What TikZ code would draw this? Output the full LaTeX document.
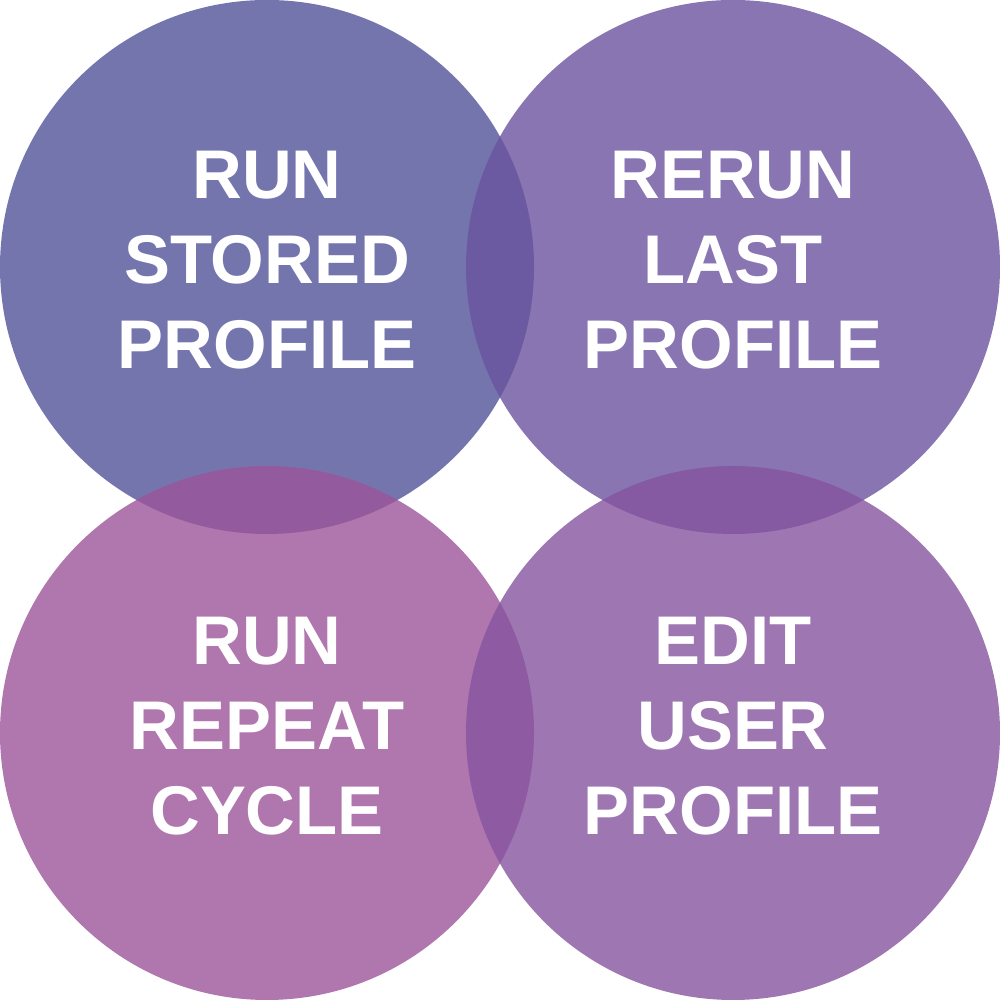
\documentclass[tikz,border=0pt]{standalone}
\usepackage{fontspec}
\setmainfont{Liberation Sans}
\usepackage{tikz}
\definecolor{runblue}{RGB}{81,83,153}
\definecolor{rerunviolet}{RGB}{106,83,158}
\definecolor{repeatpink}{RGB}{156,84,154}
\definecolor{editpurple}{RGB}{134,84,159}

\begin{document}
\begin{tikzpicture}[
  bubble/.style={fill opacity=0.8, draw=none},
  label/.style={align=center, text=white,
    font=\fontsize{19.6}{24.2}\selectfont\bfseries}]
\useasboundingbox (0, 0) rectangle (10, 10);
% Circles
\fill[bubble, runblue] (2.67, 7.33) circle (2.67);
\fill[bubble, rerunviolet] (7.33, 7.33) circle (2.67);
\fill[bubble, repeatpink] (2.67, 2.67) circle (2.67);
\fill[bubble, editpurple] (7.33, 2.67) circle (2.67);
%
% Labels
\node[label] (stored) at (2.67, 7.40) {RUN\\STORED\\PROFILE};
\node[label] (last) at (7.33, 7.40) {RERUN\\LAST\\PROFILE};
\node[label] (repeat) at (2.67, 2.74) {RUN\\REPEAT\\CYCLE};
\node[label] (user) at (7.33, 2.74) {EDIT\\USER\\PROFILE};
\end{tikzpicture}
\end{document}
